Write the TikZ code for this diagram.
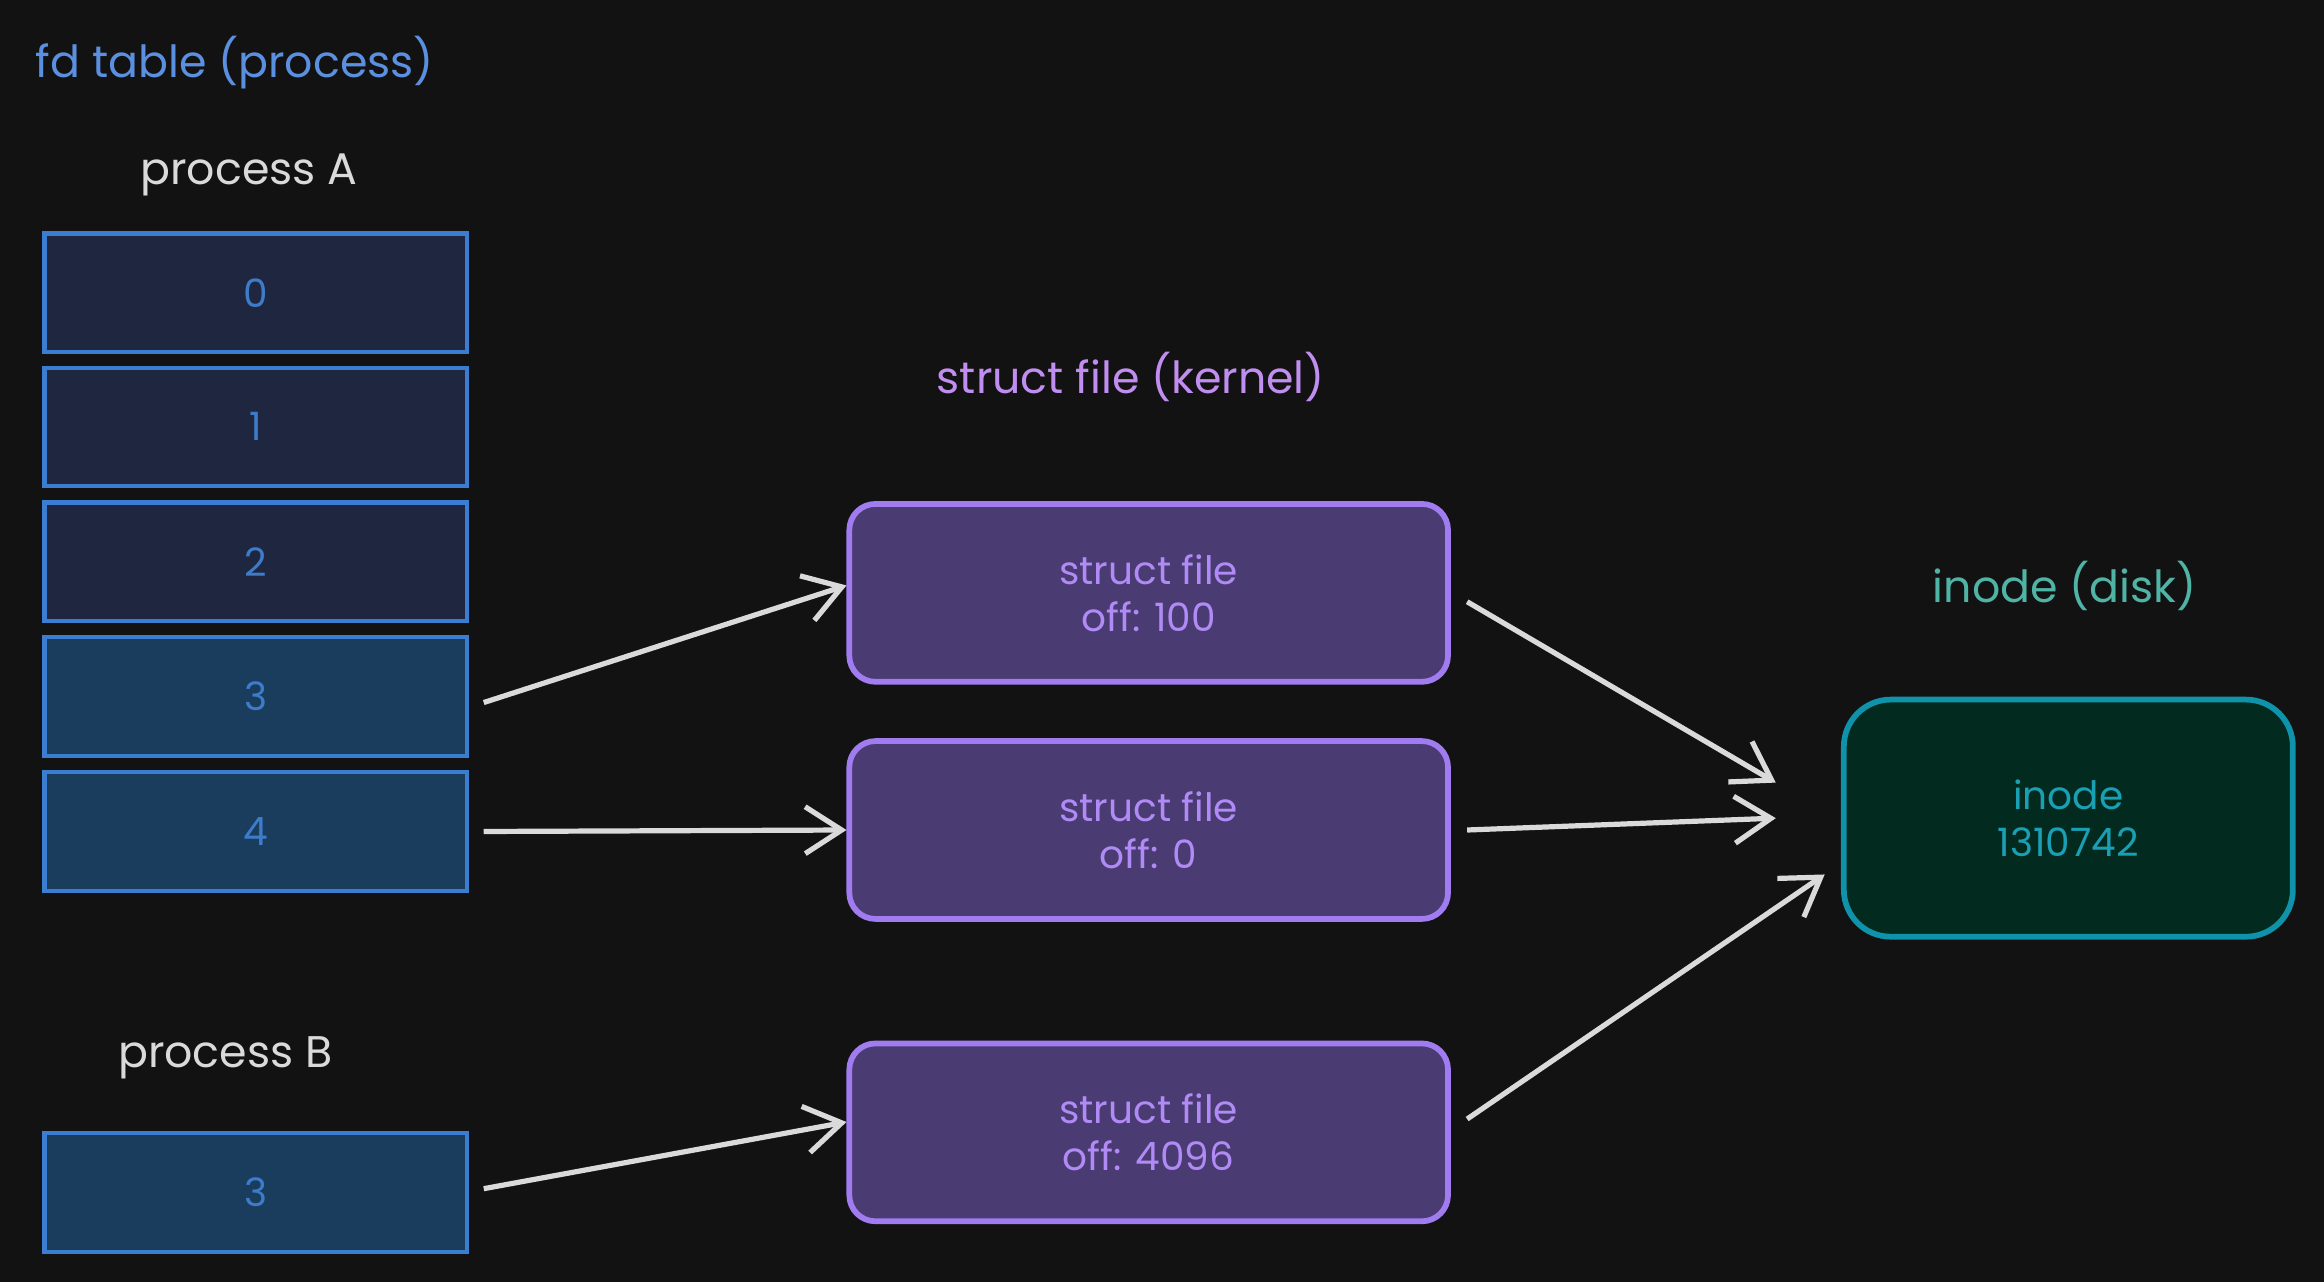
\documentclass[tikz,border=0pt]{standalone}
\usepackage{fontspec}
\setmainfont{Poppins}
\usetikzlibrary{arrows.meta}
\definecolor{bg}{HTML}{121212}
\definecolor{tblue}{HTML}{5B8FE0}
\definecolor{cellA}{HTML}{1F2640}
\definecolor{cellB}{HTML}{1A3D5E}
\definecolor{cellS}{HTML}{3B7DD0}
\definecolor{cellT}{HTML}{3D7CC9}
\definecolor{tpurp}{HTML}{C08DF0}
\definecolor{sfill}{HTML}{4A3B72}
\definecolor{sstroke}{HTML}{A07CF0}
\definecolor{stext}{HTML}{B08AF5}
\definecolor{tteal}{HTML}{4FB3A5}
\definecolor{ifill}{HTML}{022A1E}
\definecolor{istroke}{HTML}{0F93AA}
\definecolor{itext}{HTML}{1AA0B5}
\definecolor{lgray}{HTML}{DADADA}
\begin{document}
\begin{tikzpicture}[x=0.02cm,y=-0.02cm,
  cellA/.style={draw=cellS,line width=1.6pt,fill=cellA,minimum width=5.7cm,minimum height=1.6cm,text=cellT,font=\fontsize{15}{18}\selectfont},
  cellB/.style={cellA,fill=cellB},
  sf/.style={draw=sstroke,line width=2.2pt,fill=sfill,rounded corners=10pt,minimum width=8.08cm,minimum height=2.4cm,text=stext,align=center,font=\fontsize{15}{18}\selectfont},
  ino/.style={draw=istroke,line width=2.2pt,fill=ifill,rounded corners=18pt,minimum width=6.06cm,minimum height=3.2cm,text=itext,align=center,font=\fontsize{15}{18}\selectfont},
  title/.style={font=\fontsize{17}{20}\selectfont},
  arr/.style={draw=lgray,line width=2pt,-{Straight Barb[length=14pt,width=18pt,line width=2pt]}}]
\fill[bg] (0,0) rectangle (1568,865);
\node[title,text=tblue,anchor=west] (t1) at (18,42) {fd table (process)};
\node[title,text=lgray] (pa) at (168,118) {process A};
\node[cellA] (c0) at (172.5,197.5) {0};
\node[cellA] (c1) at (172.5,288) {1};
\node[cellA] (c2) at (172.5,379) {2};
\node[cellB] (c3) at (172.5,470) {3};
\node[cellB] (c4) at (172.5,561) {4};
\node[title,text=lgray] (pb) at (152,714) {process B};
\node[cellB] (cb) at (172.5,804.5) {3};
\node[title,text=tpurp] (t2) at (763,254) {struct file (kernel)};
\node[sf] (s1) at (775,400) {struct file\\off: 100};
\node[sf] (s2) at (775,560) {struct file\\off: 0};
\node[sf] (s3) at (775,764) {struct file\\off: 4096};
\node[title,text=tteal] (t3) at (1393,395) {inode (disk)};
\node[ino] (in) at (1395.5,552) {inode\\1310742};
\draw[arr] ([xshift=0.2cm,yshift=-0.08cm]c3.east) -- ([yshift=0.1cm]s1.west);
\draw[arr] ([xshift=0.2cm]c4.east) -- (s2.west);
\draw[arr] ([xshift=0.2cm,yshift=0.05cm]cb.east) -- ([yshift=0.14cm]s3.west);
\draw[arr] ([xshift=0.22cm,yshift=-0.12cm]s1.east) -- ([xshift=-0.88cm,yshift=0.48cm]in.west);
\draw[arr] ([xshift=0.22cm]s2.east) -- ([xshift=-0.88cm]in.west);
\draw[arr] ([xshift=0.22cm,yshift=0.18cm]s3.east) -- ([xshift=-0.22cm,yshift=-0.76cm]in.west);
\end{tikzpicture}
\end{document}
